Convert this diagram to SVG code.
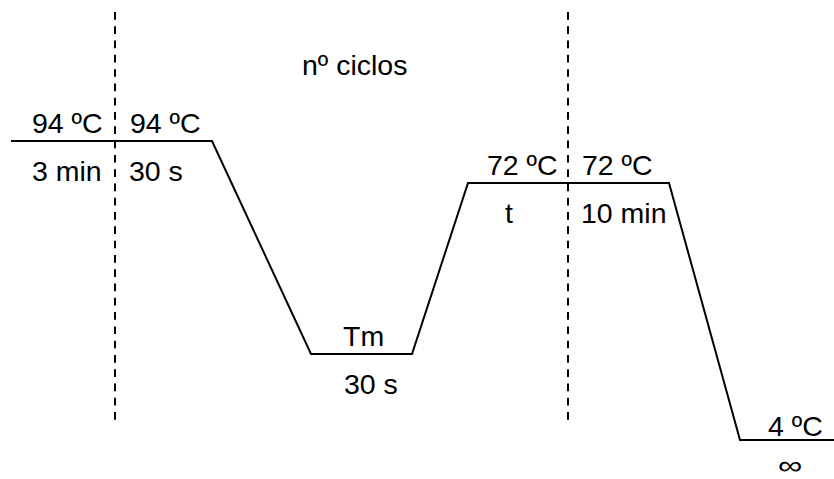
<svg xmlns="http://www.w3.org/2000/svg" width="834" height="479" viewBox="0 0 834 479">
<style>
text{font-family:"Liberation Sans",Arial,sans-serif;font-size:28.5px;fill:#000}
.dash{stroke:#000;stroke-width:2;stroke-dasharray:7.7 6.59;fill:none}
.prof{stroke:#000;stroke-width:2;fill:none;stroke-linejoin:miter}
</style>
<rect width="834" height="479" fill="#fff"/>
<g id="connectors">
<line class="dash" x1="115" y1="12" x2="115" y2="420"/>
<line class="dash" x1="568" y1="12" x2="568" y2="420"/>
<polyline class="prof" points="11,141 212,141 311,354 412,354 468,183 669,183 740,440 834,440"/>
</g>
<g id="cycles"><text x="302" y="75">nº ciclos</text></g>
<g id="init"><text x="32" y="133">94 ºC</text><text x="32" y="181">3 min</text></g>
<g id="denat"><text x="130" y="133">94 ºC</text><text x="129" y="181">30 s</text></g>
<g id="anneal"><text x="343" y="346">Tm</text><text x="344" y="394">30 s</text></g>
<g id="ext"><text x="487" y="175">72 ºC</text><text x="505" y="223">t</text></g>
<g id="finalext"><text x="582" y="175">72 ºC</text><text x="581" y="223">10 min</text></g>
<g id="hold"><text x="768" y="436">4 ºC</text><text transform="translate(790,474) scale(1,0.75)" text-anchor="middle" style="font-size:34px">∞</text></g>
</svg>
